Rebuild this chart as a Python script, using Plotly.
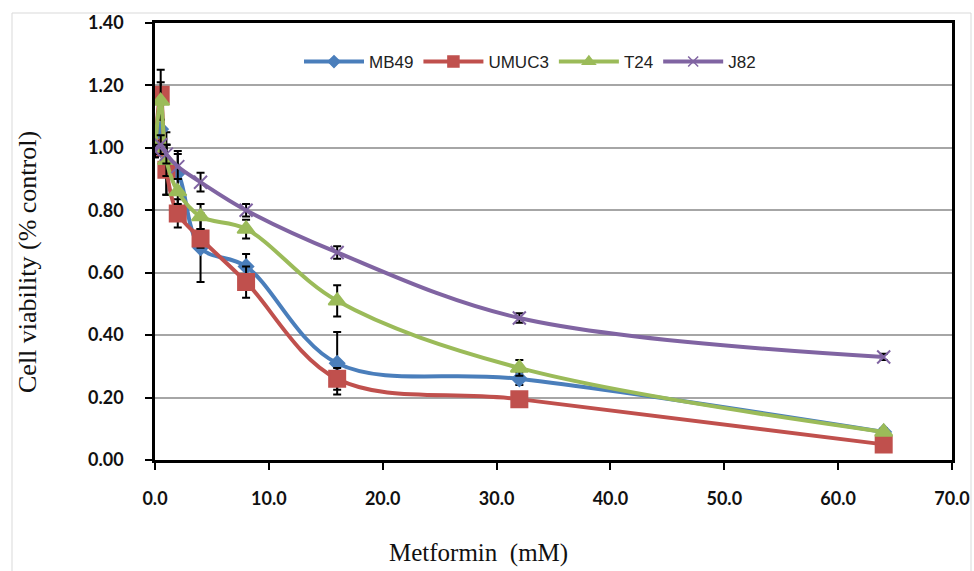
import plotly.graph_objects as go

dose = [0, 0.5, 1, 2, 4, 8, 16, 32, 64]

mb49 = [1.00, 1.06, 0.95, 0.92, 0.68, 0.62, 0.31, 0.26, 0.09]
mb49_err = [0.03, 0.08, 0.10, 0.07, 0.11, 0.04, 0.10, 0.02, 0.01]

umuc3 = [1.00, 1.17, 0.93, 0.79, 0.71, 0.57, 0.26, 0.195, 0.05]
umuc3_err = [0.02, 0.08, 0.08, 0.045, 0.03, 0.05, 0.035, 0.015, 0.01]

t24 = [1.00, 1.15, 0.96, 0.86, 0.78, 0.74, 0.51, 0.295, 0.09]
t24_err = [0.02, 0.06, 0.05, 0.04, 0.04, 0.03, 0.05, 0.025, 0.01]

j82 = [0.99, 1.01, 0.98, 0.94, 0.89, 0.80, 0.665, 0.455, 0.33]
j82_err = [0.02, 0.03, 0.03, 0.04, 0.03, 0.02, 0.02, 0.015, 0.01]

x_ticks = [0, 10, 20, 30, 40, 50, 60, 70]
x_tick_labels = ["0.0", "10.0", "20.0", "30.0", "40.0", "50.0", "60.0", "70.0"]
y_ticks = [0, 0.2, 0.4, 0.6, 0.8, 1.0, 1.2, 1.4]
y_tick_labels = ["0.00", "0.20", "0.40", "0.60", "0.80", "1.00", "1.20", "1.40"]

series = [
    ("MB49", mb49, mb49_err, "#4A7EBB", "diamond", 11, 9),
    ("UMUC3", umuc3, umuc3_err, "#C0504D", "square", 16, 11),
    ("T24", t24, t24_err, "#9BBB59", "triangle-up", 15, 11),
    ("J82", j82, j82_err, "#8064A2", "x-thin", 13, 10),
]

fig = go.Figure()
for name, y, err, color, sym, size, lsize in series:
    fig.add_trace(go.Scatter(
        x=dose, y=y, name=name, mode="lines+markers", showlegend=False,
        line=dict(color=color, width=4, shape="spline", smoothing=1.0),
        marker=dict(symbol=sym, size=size, color=color,
                    line=dict(color=color, width=2)),
        error_y=dict(type="data", array=err, visible=True,
                     color="black", thickness=2, width=4),
    ))
for name, y, err, color, sym, size, lsize in series:
    # legend-only entries with the smaller legend symbols
    fig.add_trace(go.Scatter(
        x=[None], y=[None], name=name, mode="lines+markers",
        line=dict(color=color, width=4),
        marker=dict(symbol=sym, size=lsize, color=color,
                    line=dict(color=color, width=1.5)),
    ))

W, H = 974, 571
L, R, T, B = 155, 22, 23, 111
pw, ph = W - L - R, H - T - B

def px_x(p):
    return (p - L) / pw

def px_y(p):
    return (H - B - p) / ph

tickfont = dict(family="Lato", size=18, color="#111", weight="bold")

fig.update_layout(
    width=W, height=H,
    margin=dict(l=L, r=R, t=T, b=B, autoexpand=False),
    paper_bgcolor="white", plot_bgcolor="white",
    showlegend=True,
    legend=dict(orientation="h", x=px_x(530), xanchor="center", y=px_y(62), yanchor="middle",
                font=dict(family="Liberation Sans", size=17, color="#222"),
                bgcolor="rgba(0,0,0,0)", itemwidth=60, tracegroupgap=0),
    xaxis=dict(range=[0, 70], tickvals=x_ticks, ticktext=x_tick_labels,
               showgrid=False, zeroline=False, automargin=False,
               showline=True, linecolor="black", linewidth=2.5, mirror=True,
               ticks="outside", ticklen=7, tickwidth=2, tickcolor="black",
               ticklabelstandoff=14, tickfont=tickfont),
    yaxis=dict(range=[0, 1.4], tickvals=y_ticks, ticktext=y_tick_labels,
               showgrid=True, gridcolor="#A6A6A6", gridwidth=1.5, zeroline=False,
               automargin=False,
               showline=True, linecolor="black", linewidth=2.5, mirror=True,
               ticks="outside", ticklen=7, tickwidth=2, tickcolor="black",
               ticklabelstandoff=18, tickfont=tickfont),
    annotations=[
        dict(text="Metformin  (mM)", xref="paper", yref="paper",
             x=px_x(478), y=px_y(553), xanchor="center", yanchor="middle",
             showarrow=False,
             font=dict(family="Liberation Serif", size=25, color="#111")),
        dict(text="Cell viability (% control)", xref="paper", yref="paper",
             x=px_x(27), y=px_y(262), xanchor="center", yanchor="middle",
             textangle=-90, showarrow=False,
             font=dict(family="Liberation Serif", size=26, color="#111")),
    ],
    shapes=[
        dict(type="rect", xref="paper", yref="paper",
             x0=px_x(12), x1=px_x(971), y0=px_y(13), y1=px_y(585),
             line=dict(color="#D9D9D9", width=1), layer="below"),
    ],
)

fig.write_html("out.html")
